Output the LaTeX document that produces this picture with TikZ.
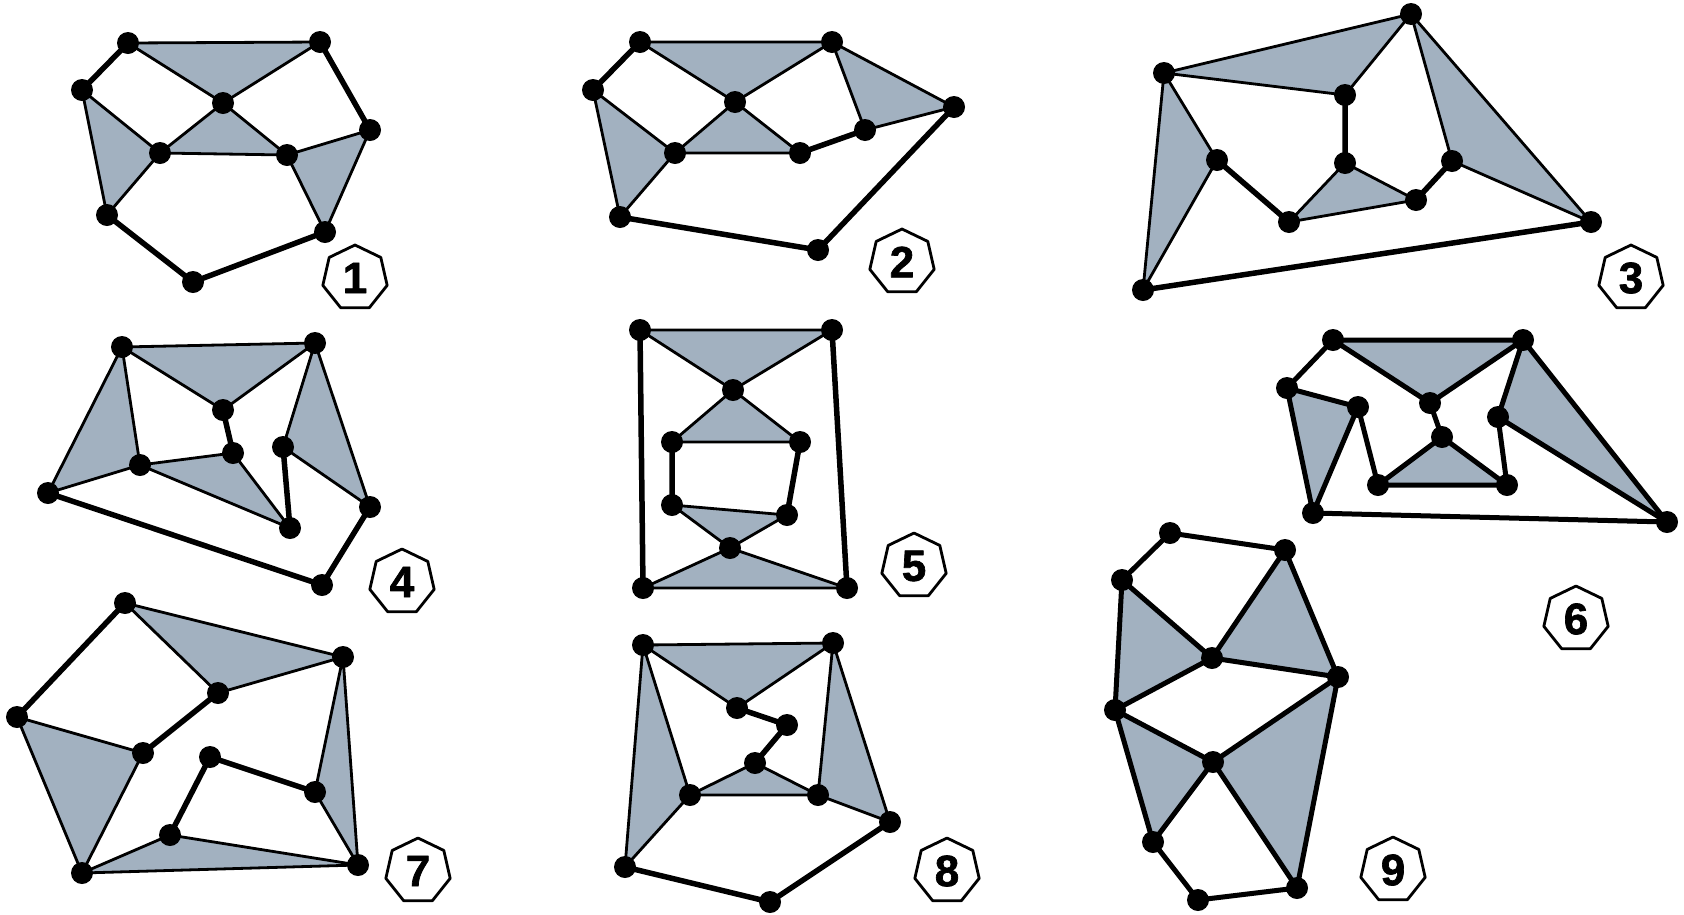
\documentclass[tikz,border=0pt]{standalone}
\usepackage{fontspec}
\setmainfont{Liberation Sans}
\usetikzlibrary{shapes.geometric}
\definecolor{facegray}{RGB}{162,177,192}
\begin{document}
\begin{tikzpicture}[x=1pt,y=-1pt,line join=round,line cap=round,
	face/.style={fill=facegray},
	thinedge/.style={line width=2.8pt},
	thickedge/.style={line width=5.5pt},
	tag/.style={draw,fill=white,line width=2.8pt,regular polygon,regular polygon sides=7,
		minimum size=66pt,inner sep=0pt,font=\bfseries\fontsize{44}{44}\selectfont\addfontfeatures{FakeBold=1.5}}]
	\useasboundingbox (0,0) rectangle (1684,914);
	% graph 1
	\path (128,43) coordinate (A1) (320,42) coordinate (B1) (82,90) coordinate (C1)
		(223,103) coordinate (D1) (370,130) coordinate (E1) (160,153) coordinate (F1)
		(287,155) coordinate (G1) (107,215) coordinate (H1) (325,232) coordinate (I1)
		(193,282) coordinate (J1);
	\fill[face] (A1)--(B1)--(D1)--cycle (D1)--(F1)--(G1)--cycle (C1)--(F1)--(H1)--cycle (G1)--(E1)--(I1)--cycle;
	\draw[thinedge] (A1)--(B1)--(D1)--cycle (D1)--(F1)--(G1)--cycle (C1)--(F1)--(H1)--cycle (G1)--(E1)--(I1)--cycle;
	\draw[thickedge] (A1)--(C1) (B1)--(E1) (H1)--(J1)--(I1);
	% graph 2
	\path (640,42) coordinate (A2) (832,42) coordinate (B2) (593,90) coordinate (C2)
		(735,102) coordinate (D2) (954,107) coordinate (E2) (865,130) coordinate (F2)
		(675,153) coordinate (G2) (800,153) coordinate (H2) (620,217) coordinate (I2)
		(818,250) coordinate (J2);
	\fill[face] (A2)--(B2)--(D2)--cycle (D2)--(G2)--(H2)--cycle (C2)--(G2)--(I2)--cycle (B2)--(E2)--(F2)--cycle;
	\draw[thinedge] (A2)--(B2)--(D2)--cycle (D2)--(G2)--(H2)--cycle (C2)--(G2)--(I2)--cycle (B2)--(E2)--(F2)--cycle;
	\draw[thickedge] (A2)--(C2) (H2)--(F2) (I2)--(J2)--(E2);
	% graph 3
	\path (1411,14) coordinate (A3) (1164,73) coordinate (B3) (1345,95) coordinate (C3)
		(1217,160) coordinate (D3) (1345,163) coordinate (E3) (1452,161) coordinate (F3)
		(1289,222) coordinate (G3) (1416,200) coordinate (H3) (1591,222) coordinate (I3)
		(1143,290) coordinate (J3);
	\fill[face] (B3)--(A3)--(C3)--cycle (B3)--(D3)--(J3)--cycle (A3)--(F3)--(I3)--cycle (E3)--(G3)--(H3)--cycle;
	\draw[thinedge] (B3)--(A3)--(C3)--cycle (B3)--(D3)--(J3)--cycle (A3)--(F3)--(I3)--cycle (E3)--(G3)--(H3)--cycle;
	\draw[thickedge] (D3)--(G3) (C3)--(E3) (H3)--(F3) (J3)--(I3);
	% graph 4
	\path (122,347) coordinate (A4) (315,343) coordinate (B4) (223,410) coordinate (C4)
		(233,453) coordinate (D4) (283,447) coordinate (E4) (140,465) coordinate (F4)
		(48,493) coordinate (G4) (370,507) coordinate (H4) (290,528) coordinate (I4)
		(322,585) coordinate (J4);
	\fill[face] (A4)--(B4)--(C4)--cycle (A4)--(F4)--(G4)--cycle (F4)--(D4)--(I4)--cycle (B4)--(E4)--(H4)--cycle;
	\draw[thinedge] (A4)--(B4)--(C4)--cycle (A4)--(F4)--(G4)--cycle (F4)--(D4)--(I4)--cycle (B4)--(E4)--(H4)--cycle;
	\draw[thickedge] (C4)--(D4) (E4)--(I4) (G4)--(J4)--(H4);
	% graph 5
	\path (640,330) coordinate (A5) (832,330) coordinate (B5) (733,390) coordinate (C5)
		(672,442) coordinate (D5) (800,442) coordinate (E5) (672,505) coordinate (F5)
		(787,515) coordinate (G5) (730,548) coordinate (H5) (643,588) coordinate (I5)
		(847,588) coordinate (J5);
	\fill[face] (A5)--(B5)--(C5)--cycle (C5)--(D5)--(E5)--cycle (F5)--(G5)--(H5)--cycle (H5)--(I5)--(J5)--cycle;
	\draw[thinedge] (A5)--(B5)--(C5)--cycle (C5)--(D5)--(E5)--cycle (F5)--(G5)--(H5)--cycle (H5)--(I5)--(J5)--cycle;
	\draw[thickedge] (A5)--(I5) (B5)--(J5) (D5)--(F5) (E5)--(G5);
	% graph 6
	\path (1333,340) coordinate (A6) (1523,340) coordinate (B6) (1287,388) coordinate (C6)
		(1358,407) coordinate (D6) (1430,403) coordinate (E6) (1498,417) coordinate (F6)
		(1442,437) coordinate (G6) (1378,485) coordinate (H6) (1507,485) coordinate (I6)
		(1313,513) coordinate (J6) (1667,522) coordinate (K6);
	\fill[face] (A6)--(B6)--(E6)--cycle (C6)--(D6)--(J6)--cycle (G6)--(H6)--(I6)--cycle (B6)--(F6)--(K6)--cycle;
	\draw[line width=5pt] (A6)--(B6)--(E6)--cycle (C6)--(D6)--(J6)--cycle (G6)--(H6)--(I6)--cycle (B6)--(F6)--(K6)--cycle
		(A6)--(C6) (E6)--(G6) (D6)--(H6) (F6)--(I6) (J6)--(K6);
	% graph 7
	\path (125,603) coordinate (A7) (343,657) coordinate (B7) (218,693) coordinate (C7)
		(17,717) coordinate (D7) (143,753) coordinate (E7) (210,757) coordinate (F7)
		(315,792) coordinate (G7) (170,835) coordinate (H7) (82,873) coordinate (I7)
		(358,865) coordinate (J7);
	\fill[face] (A7)--(B7)--(C7)--cycle (D7)--(E7)--(I7)--cycle (B7)--(G7)--(J7)--cycle (I7)--(H7)--(J7)--cycle;
	\draw[thinedge] (A7)--(B7)--(C7)--cycle (D7)--(E7)--(I7)--cycle (B7)--(G7)--(J7)--cycle (I7)--(H7)--(J7)--cycle;
	\draw[thickedge] (A7)--(D7) (C7)--(E7) (G7)--(F7)--(H7);
	% graph 8
	\path (643,645) coordinate (A8) (833,643) coordinate (B8) (737,708) coordinate (C8)
		(787,725) coordinate (D8) (755,763) coordinate (E8) (690,795) coordinate (F8)
		(818,795) coordinate (G8) (890,822) coordinate (H8) (625,867) coordinate (I8)
		(770,902) coordinate (J8);
	\fill[face] (A8)--(B8)--(C8)--cycle (A8)--(F8)--(I8)--cycle (E8)--(F8)--(G8)--cycle (B8)--(G8)--(H8)--cycle;
	\draw[thinedge] (A8)--(B8)--(C8)--cycle (A8)--(F8)--(I8)--cycle (E8)--(F8)--(G8)--cycle (B8)--(G8)--(H8)--cycle;
	\draw[thickedge] (C8)--(D8)--(E8) (I8)--(J8)--(H8);
	% graph 9
	\path (1170,533) coordinate (A9) (1285,550) coordinate (B9) (1122,580) coordinate (C9)
		(1212,658) coordinate (D9) (1338,677) coordinate (E9) (1115,710) coordinate (F9)
		(1213,762) coordinate (G9) (1153,842) coordinate (H9) (1297,888) coordinate (I9)
		(1198,900) coordinate (J9);
	\fill[face] (C9)--(D9)--(F9)--cycle (D9)--(B9)--(E9)--cycle (F9)--(G9)--(H9)--cycle (G9)--(E9)--(I9)--cycle;
	\draw[line width=5pt] (C9)--(D9)--(F9)--cycle (D9)--(B9)--(E9)--cycle (F9)--(G9)--(H9)--cycle (G9)--(E9)--(I9)--cycle
		(C9)--(A9)--(B9) (H9)--(J9)--(I9);
	% vertices
	\foreach \g in {1,...,9}{\foreach \p in {A,...,J}{\fill (\p\g) circle[radius=11pt];}}
	\fill (K6) circle[radius=11pt];
	% labels
	\foreach \t/\x/\y in {1/355/278,2/902/262,3/1631/278,4/402/582,5/914/566,6/1576/619,7/418/871,8/947/871,9/1393/870}
		{\node[tag] (T\t) at (\x,\y) {\t};}
\end{tikzpicture}
\end{document}
